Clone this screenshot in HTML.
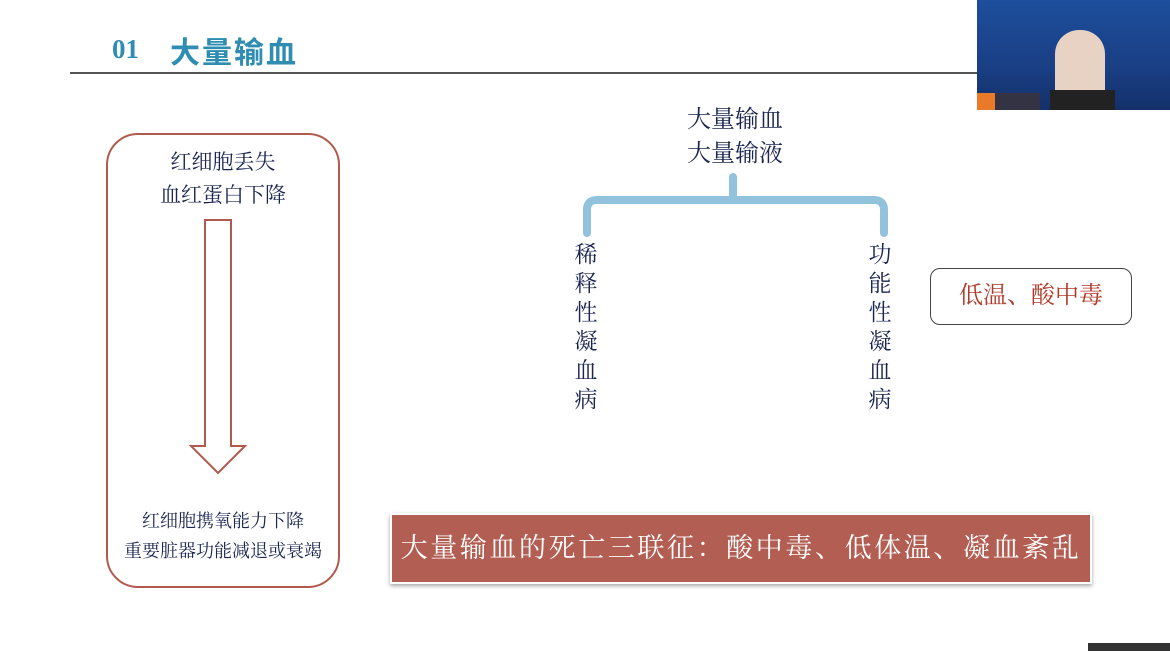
<!DOCTYPE html>
<html><head><meta charset="utf-8"><style>
html,body{margin:0;padding:0}
body{width:1170px;height:651px;background:#fff;position:relative;overflow:hidden;font-family:"Liberation Serif","Noto Serif CJK SC",serif;}
.a{position:absolute}
.c{color:#1a2550;text-align:center;white-space:nowrap}
</style></head><body>
<div class="a" style="left:112px;top:34px;font-family:'Liberation Serif','Noto Serif CJK SC',serif;font-weight:bold;font-size:27px;color:#2e8db0;">01</div>
<div class="a" style="left:170px;top:28px;font-family:'Liberation Sans','Noto Sans CJK SC',sans-serif;font-weight:bold;font-size:30px;letter-spacing:2px;color:#2e8db0;">大量输血</div>
<div class="a" style="left:70px;top:72px;width:908px;height:2px;background:#555"></div>
<div class="a" style="left:977px;top:0;width:193px;height:110px;background:linear-gradient(#1d4f9c,#1a3f85 60%,#13306a);"></div>
<div class="a" style="left:1055px;top:30px;width:50px;height:80px;background:#e8d2c4;border-radius:24px 24px 6px 6px"></div>
<div class="a" style="left:1050px;top:90px;width:65px;height:20px;background:#222;"></div>
<div class="a" style="left:977px;top:93px;width:18px;height:17px;background:#e87a2a"></div>
<div class="a" style="left:995px;top:93px;width:45px;height:17px;background:#334"></div>

<div class="a" style="left:106px;top:133px;width:230px;height:451px;border:2px solid #b05a4e;border-radius:32px"></div>
<div class="a c" style="left:106px;width:234px;top:146px;font-size:21px;line-height:33px">红细胞丢失<br>血红蛋白下降</div>
<svg class="a" style="left:0;top:0" width="1170" height="651">
<path d="M205 220 H231 V446 H245 L218 473 L191 446 H205 Z" fill="#fff" stroke="#b05a4e" stroke-width="2"/>
<path d="M587 233 V210 Q587 200 597 200 H733 V177 M733 200 H874 Q884 200 884 210 V233" fill="none" stroke="#93c2dc" stroke-width="8" stroke-linecap="round"/>
</svg>
<div class="a c" style="left:106px;width:234px;top:506px;font-size:18px;line-height:30px">红细胞携氧能力下降<br>重要脏器功能减退或衰竭</div>

<div class="a c" style="left:635px;width:200px;top:103px;font-size:24px;line-height:34px">大量输血<br>大量输液</div>
<div class="a c" style="left:571px;width:30px;top:240px;font-size:23px;line-height:29px">稀<br>释<br>性<br>凝<br>血<br>病</div>
<div class="a c" style="left:865px;width:30px;top:240px;font-size:23px;line-height:29px">功<br>能<br>性<br>凝<br>血<br>病</div>
<div class="a" style="left:930px;top:268px;width:200px;height:55px;border:1.5px solid #444;border-radius:10px;color:#b03a2a;font-size:24px;line-height:55px;text-align:center">低温、酸中毒</div>

<div class="a" style="left:390px;top:513px;width:698px;height:67px;background:#b35e52;border:2px solid #fff;box-shadow:0 2px 4px rgba(0,0,0,.35);overflow:hidden;"><div style="color:#fff;font-size:27px;line-height:67px;letter-spacing:2.6px;white-space:nowrap;text-align:center;width:698px">大量输血的死亡三联征：酸中毒、低体温、凝血紊乱</div></div>
<div class="a" style="left:1088px;top:643px;width:82px;height:8px;background:#333"></div>
</body></html>
